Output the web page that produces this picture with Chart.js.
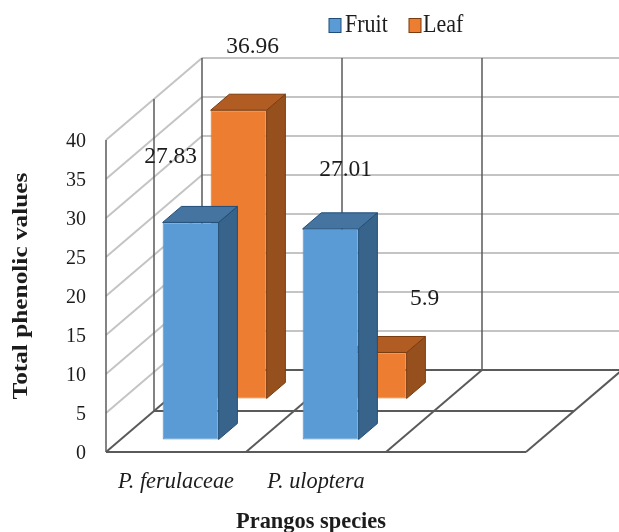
<!DOCTYPE html>
<html>
<head>
<meta charset="utf-8">
<title>Total phenolic values</title>
<style>
    body { margin: 0; background: #ffffff; }
    canvas { display: block; }
</style>
<script src="https://cdn.jsdelivr.net/npm/chart.js@4/dist/chart.umd.js"></script>
</head>
<body>
<canvas id="phenolicChart" width="619" height="532"></canvas>
<script>
//Data
const species = ['P. ferulaceae', 'P. uloptera', ''];
const fruitValues = [27.83, 27.01, null];
const leafValues = [36.96, 5.9, null];
const yTicks = [0, 5, 10, 15, 20, 25, 30, 35, 40];

//3D box look
const DEPTH_X = 96;
const DEPTH_Y = 82;
const BAR_DEPTH = 0.195; //share of the floor depth one bar takes
const SERIF = '"Liberation Serif", "Times New Roman", serif';
const TEXT_COLOR = '#1c1c1c';
const GRID_COLOR = '#c4c4c4';
const FRAME_COLOR = '#5a5a5a';

const faces = [
    {side: '#38648c', top: '#44749f', edge: '#1f4e79'},
    {side: '#96501e', top: '#b05c22', edge: '#7a3b0e'}
];

//Hand placed value labels, relative to the front top of each bar
const labelShift = [
    [[-20, -66], [15, -59]],
    [[14, -63], [46, -54]]
];

//Where a series sits on the depth axis, as a share of the floor
function depthShare(datasetIndex) {
    return (datasetIndex + 0.5) / 2 - BAR_DEPTH / 2;
}

function drawText(ctx, text, x, y, font, opts = {}) {
    ctx.save();
    ctx.translate(x, y);
    if (opts.stretch) ctx.scale(1, opts.stretch);
    if (opts.rotate) ctx.rotate(opts.rotate);
    ctx.font = font;
    ctx.fillStyle = TEXT_COLOR;
    ctx.textAlign = opts.align || 'center';
    ctx.textBaseline = 'middle';
    ctx.fillText(text, 0, 0);
    ctx.restore();
}

function line(ctx, x1, y1, x2, y2) {
    ctx.beginPath();
    ctx.moveTo(x1, y1);
    ctx.lineTo(x2, y2);
    ctx.stroke();
}

function polygon(ctx, points, fill, edge) {
    ctx.beginPath();
    points.forEach((p, i) => i ? ctx.lineTo(p[0], p[1]) : ctx.moveTo(p[0], p[1]));
    ctx.closePath();
    ctx.fillStyle = fill;
    ctx.fill();
    ctx.strokeStyle = edge;
    ctx.lineWidth = 1;
    ctx.stroke();
}

//Side wall, back wall and floor
const wallsPlugin = {
    id: 'walls',
    beforeDatasetsDraw(chart) {
        const {ctx, chartArea, scales} = chart;
        const {left, right, bottom} = chartArea;
        const step = (right - left) / species.length;

        ctx.save();
        ctx.lineCap = 'butt';

        //value gridlines
        ctx.strokeStyle = GRID_COLOR;
        ctx.lineWidth = 2;
        yTicks.forEach(value => {
            if (value === 0) return;
            const y = scales.y.getPixelForValue(value);
            line(ctx, left, y, left + DEPTH_X, y - DEPTH_Y);
            line(ctx, left + DEPTH_X, y - DEPTH_Y, right + DEPTH_X, y - DEPTH_Y);
        });

        //uprights on the back and side walls
        const top = scales.y.getPixelForValue(40);
        ctx.strokeStyle = FRAME_COLOR;
        ctx.lineWidth = 1.5;
        line(ctx, left, top, left, bottom);
        line(ctx, left + DEPTH_X / 2, top - DEPTH_Y / 2, left + DEPTH_X / 2, bottom - DEPTH_Y / 2);
        for (let i = 0; i <= species.length; i++) {
            const x = left + i * step + DEPTH_X;
            line(ctx, x, top - DEPTH_Y, x, bottom - DEPTH_Y);
        }

        //floor
        ctx.lineWidth = 2;
        for (let d = 0; d <= 2; d++) {
            const dx = DEPTH_X * d / 2;
            const dy = DEPTH_Y * d / 2;
            line(ctx, left + dx, bottom - dy, right + dx, bottom - dy);
        }
        for (let i = 0; i <= species.length; i++) {
            const x = left + i * step;
            line(ctx, x, bottom, x + DEPTH_X, bottom - DEPTH_Y);
        }
        ctx.restore();
    }
};

//Moves each series back along the depth axis and adds the side and top faces
const boxPlugin = {
    id: 'boxes',
    beforeDatasetDraw(chart, args) {
        const share = depthShare(args.index);
        chart.ctx.save();
        chart.ctx.translate(share * DEPTH_X, -share * DEPTH_Y);
    },
    afterDatasetDraw(chart, args) {
        const {ctx} = chart;
        const style = faces[args.index];
        const values = chart.data.datasets[args.index].data;
        const dx = BAR_DEPTH * DEPTH_X;
        const dy = BAR_DEPTH * DEPTH_Y;
        args.meta.data.forEach((bar, i) => {
            if (values[i] === null) return;
            const x1 = bar.x - bar.width / 2;
            const x2 = bar.x + bar.width / 2;
            polygon(ctx, [[x2, bar.y], [x2 + dx, bar.y - dy], [x2 + dx, bar.base - dy], [x2, bar.base]], style.side, style.edge);
            polygon(ctx, [[x1, bar.y], [x1 + dx, bar.y - dy], [x2 + dx, bar.y - dy], [x2, bar.y]], style.top, style.edge);
        });
        ctx.restore();
    }
};

//Value labels, legend and axis titles
const textPlugin = {
    id: 'chartText',
    afterDatasetsDraw(chart) {
        const {ctx} = chart;
        chart.data.datasets.forEach((dataset, d) => {
            const share = depthShare(d);
            chart.getDatasetMeta(d).data.forEach((bar, i) => {
                if (dataset.data[i] === null) return;
                const shift = labelShift[d][i];
                const x = bar.x + share * DEPTH_X + shift[0];
                const y = bar.y - share * DEPTH_Y + shift[1];
                drawText(ctx, String(dataset.data[i]), x, y, '23.5px ' + SERIF);
            });
        });

        //legend
        const keys = [[329, 345], [409, 423]];
        chart.data.datasets.forEach((dataset, d) => {
            const [boxX, textX] = keys[d];
            ctx.fillStyle = dataset.backgroundColor;
            ctx.strokeStyle = faces[d].edge;
            ctx.lineWidth = 1;
            ctx.fillRect(boxX, 18.5, 12, 14);
            ctx.strokeRect(boxX, 18.5, 12, 14);
            drawText(ctx, dataset.label, textX, 25, '22px ' + SERIF, {align: 'left', stretch: 1.15});
        });

        drawText(ctx, 'Prangos species', 311, 522, 'bold 22.4px ' + SERIF);
        drawText(ctx, 'Total phenolic values', 21, 286, 'bold 22px ' + SERIF, {rotate: -Math.PI / 2, stretch: 1.15});
    }
};

let chart = new Chart('phenolicChart', {
    type: 'bar',
    data: {
        labels: species,
        datasets: [
            {
                label: 'Fruit',
                data: fruitValues,
                backgroundColor: '#5b9bd5',
                borderColor: '#4f8fcc',
                borderWidth: 1,
                borderSkipped: false
            },
            {
                label: 'Leaf',
                data: leafValues,
                backgroundColor: '#ed7d31',
                borderColor: '#d96f22',
                borderWidth: 1,
                borderSkipped: false
            }
        ]
    },
    options: {
        responsive: false,
        animation: false,
        clip: false,
        grouped: false,
        categoryPercentage: 1,
        barPercentage: 0.4,
        layout: {padding: {top: 140, right: 93, bottom: 0, left: 0}},
        plugins: {
            legend: {display: false},
            tooltip: {enabled: false}
        },
        scales: {
            x: {
                afterFit: scale => { scale.height = 80; },
                grid: {display: false},
                border: {display: false},
                ticks: {
                    autoSkip: false,
                    maxRotation: 0,
                    padding: 9,
                    color: TEXT_COLOR,
                    font: {family: SERIF, size: 22.3, style: 'italic'}
                }
            },
            y: {
                min: 0,
                max: 40,
                afterFit: scale => { scale.width = 106; },
                grid: {display: false},
                border: {display: false},
                afterBuildTicks: scale => { scale.ticks = yTicks.map(value => ({value})); },
                ticks: {
                    padding: 12,
                    labelOffset: 2,
                    color: TEXT_COLOR,
                    font: {family: SERIF, size: 20}
                }
            }
        }
    },
    plugins: [wallsPlugin, boxPlugin, textPlugin]
});
</script>
</body>
</html>
